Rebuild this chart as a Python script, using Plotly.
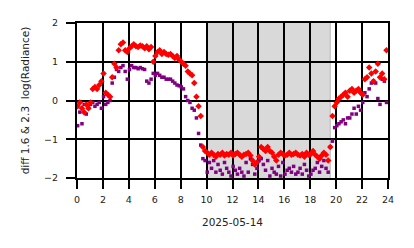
import plotly.graph_objects as go

# 10-minute samples over the day (hours)
hours = [h + m / 6 + 0.05 for h in range(24) for m in range(6)]

red_vals = [
    -0.15, -0.05, -0.2, -0.3, -0.1, -0.2,
    -0.05, 0.3, 0.35, 0.3, 0.4, 0.5,
    0.7, 0.2, 0.15, 0.1, 0.6, 0.95,
    0.85, 1.3, 1.45, 1.5, 1.3, 1.25,
    1.35, 1.4, 1.45, 1.4, 1.38, 1.42,
    1.4, 1.35, 1.4, 1.32, 1.38, 1.0,
    1.15, 1.25, 1.3, 1.2, 1.25, 1.2,
    1.18, 1.2, 1.15, 1.1, 1.15, 1.05,
    1.0, 0.95, 0.9, 0.75, 0.7, 0.65,
    0.45, 0.1, -0.15, -0.4, -1.2, -1.3,
    -1.35, -1.4, -1.35, -1.4, -1.45, -1.38,
    -1.4, -1.35, -1.42, -1.38, -1.4, -1.35,
    -1.42, -1.38, -1.35, -1.4, -1.45, -1.4,
    -1.38, -1.35, -1.42, -1.55, -1.65, -1.6,
    -1.45, -1.2, -1.25, -1.3, -1.2, -1.3,
    -1.35, -1.45, -1.55, -1.4, -1.35, -1.38,
    -1.42, -1.4, -1.35, -1.4, -1.38, -1.35,
    -1.4, -1.42, -1.38, -1.45, -1.35, -1.4,
    -1.38, -1.3, -1.4, -1.45, -1.5, -1.42,
    -1.35, -1.4, -1.55, -1.2, -0.4, -0.15,
    -0.05, 0.05, 0.1, 0.15, 0.2, 0.1,
    0.25, 0.3, 0.2, 0.25, 0.3, 0.2,
    0.15, 0.55, 0.6, 0.85, 0.7, 0.5,
    0.75, 0.95, 0.6, 0.7, 0.55, 1.3,
]

purple_vals = [
    -0.65, -0.3, -0.6, -0.1, -0.35, -0.2,
    -0.1, -0.05, -0.15, -0.1, -0.05, -0.2,
    0.1, -0.1, -0.05, 0.0, 0.45, 0.6,
    0.8, 0.75, 0.85, 0.9, 0.75, 0.55,
    0.8, 0.9, 0.85, 0.85, 0.82, 0.85,
    0.82, 0.8, 0.5, 0.45, 0.55, 0.7,
    0.65, 0.7, 0.65, 0.6, 0.6, 0.55,
    0.55, 0.55, 0.5, 0.45, 0.4, 0.38,
    0.35, 0.3, 0.1, 0.0, -0.05, -0.2,
    -0.25, -0.45, -0.85, -1.15, -1.5, -1.55,
    -1.85, -1.6, -1.75, -1.55, -1.85, -1.65,
    -1.8, -1.9, -1.6, -1.75, -1.85, -1.95,
    -1.7, -1.8, -1.9, -1.75, -1.85, -1.95,
    -1.6, -1.85, -1.5, -1.65, -1.9, -1.75,
    -1.55, -1.5, -1.65, -1.8, -1.55, -1.95,
    -1.75, -1.85, -1.9, -1.7, -1.95, -1.6,
    -1.9, -1.8, -1.75, -1.85, -1.7, -1.9,
    -1.85, -1.75, -1.9, -1.65, -1.8, -1.95,
    -1.9, -1.8, -1.75, -1.6, -1.85, -1.7,
    -1.55, -1.75, -1.85, -1.2, -1.05, -0.7,
    -0.65, -0.6, -0.55, -0.5, -0.6, -0.45,
    -0.45, -0.35, -0.2, -0.35, -0.15, -0.25,
    -0.05, 0.2, 0.1, 0.3, 0.45, 0.5,
    0.45, 0.05, -0.1, 0.55, 0.5, -0.05,
]

night_start, night_end = 10.0, 19.6
x_ticks = list(range(0, 25, 2))
y_ticks = [-2, -1, 0, 1, 2]
y_title = "diff 1.6 &amp; 2.3\u00a0\u00a0log(Radiance)"
x_title = "2025-05-14"

fig = go.Figure()
fig.add_trace(go.Scatter(x=hours, y=purple_vals, mode="markers",
                         marker=dict(symbol="square", size=3.5, color="#800080")))
fig.add_trace(go.Scatter(x=hours, y=red_vals, mode="markers",
                         marker=dict(symbol="diamond", size=5, color="#ff0000")))

fig.add_shape(type="rect", xref="x", yref="y", x0=night_start, x1=night_end,
              y0=-2, y1=2, fillcolor="#d9d9d9", line_width=0, layer="below")
fig.add_shape(type="rect", xref="x", yref="y", x0=night_end - 0.12, x1=night_end,
              y0=-2, y1=2, fillcolor="#c8c8c8", line_width=0, layer="below")

axis_common = dict(showgrid=True, gridcolor="black", gridwidth=2,
                   showline=True, linecolor="black", linewidth=2, mirror=True,
                   ticks="outside", ticklen=9, tickwidth=2, tickcolor="black",
                   zeroline=False, tickfont=dict(size=9.5, color="#222"))

fig.update_xaxes(range=[0, 24], tickvals=x_ticks, ticktext=[str(t) for t in x_ticks],
                 ticklabelstandoff=3,
                 title=dict(text=x_title, font=dict(size=10.5, color="#222"), standoff=14),
                 **axis_common)
fig.update_yaxes(range=[-2, 2], tickvals=y_ticks,
                 ticktext=["\u22122", "\u22121", "0", "1", "2"],
                 ticklabelstandoff=6,
                 title=dict(text=y_title, font=dict(size=10.5, color="#222"), standoff=12),
                 **axis_common)

fig.update_layout(width=414, height=248, margin=dict(l=77, r=26, t=23, b=70),
                  paper_bgcolor="white", plot_bgcolor="white", showlegend=False,
                  font=dict(family="DejaVu Sans", size=10, color="#222"))

fig.write_html("out.html")
